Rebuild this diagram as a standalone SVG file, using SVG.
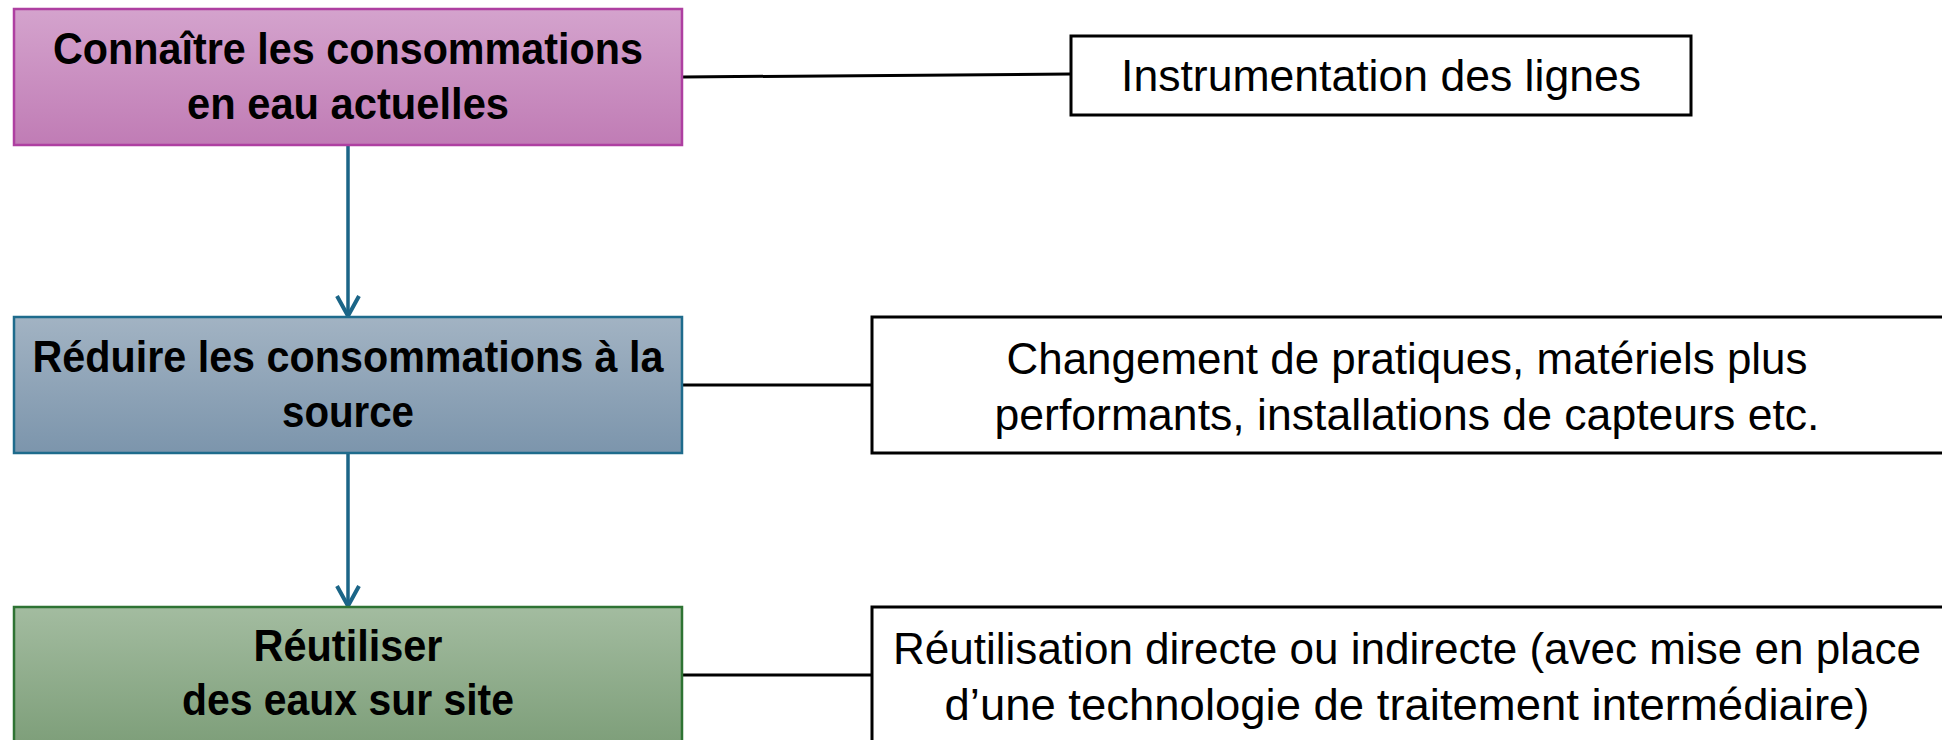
<svg xmlns="http://www.w3.org/2000/svg" width="1942" height="740" viewBox="0 0 1942 740">
<defs>
<linearGradient id="gPink" x1="0" y1="0" x2="0" y2="1"><stop offset="0" stop-color="#D4A3CD"/><stop offset="1" stop-color="#C07CB5"/></linearGradient>
<linearGradient id="gBlue" x1="0" y1="0" x2="0" y2="1"><stop offset="0" stop-color="#A2B3C3"/><stop offset="1" stop-color="#7C95AC"/></linearGradient>
<linearGradient id="gGreen" x1="0" y1="0" x2="0" y2="1"><stop offset="0" stop-color="#A3BCA0"/><stop offset="1" stop-color="#7D9E79"/></linearGradient>
<marker id="arr" viewBox="0 0 26 26" refX="23" refY="13" markerWidth="26" markerHeight="26" markerUnits="userSpaceOnUse" orient="auto">
<path d="M3,2 L23,13 L3,24" fill="none" stroke="#1B6587" stroke-width="4" transform="translate(0,0)"/>
</marker>
<style>
.lt{font-family:"Liberation Sans",Arial,sans-serif;font-weight:bold;font-size:44px;fill:#000;text-anchor:middle}
.rt{font-family:"Liberation Sans",Arial,sans-serif;font-size:44px;fill:#000;text-anchor:middle}
.rb{fill:#fff;stroke:#000;stroke-width:3}
.conn{stroke:#000;stroke-width:3;fill:none}
.arrow{stroke:#1B6587;stroke-width:3.5;fill:none}
</style>
</defs>
<rect width="1942" height="740" fill="#fff"/>
<g id="connectors">
<line class="conn" x1="683" y1="77" x2="1071" y2="74"/>
<line class="conn" x1="683" y1="385" x2="872" y2="385"/>
<line class="conn" x1="683" y1="675" x2="872" y2="675"/>
<line class="arrow" x1="348" y1="146" x2="348" y2="316" marker-end="url(#arr)"/>
<line class="arrow" x1="348" y1="454" x2="348" y2="606" marker-end="url(#arr)"/>
</g>
<g id="node-connaitre">
<rect x="14" y="9" width="668" height="136" fill="url(#gPink)" stroke="#AE3FA1" stroke-width="2.5"/>
<text class="lt" x="348" y="64" textLength="590" lengthAdjust="spacingAndGlyphs">Connaître les consommations</text>
<text class="lt" x="348" y="119" textLength="322" lengthAdjust="spacingAndGlyphs">en eau actuelles</text>
</g>
<g id="node-reduire">
<rect x="14" y="317" width="668" height="136" fill="url(#gBlue)" stroke="#1E6B8C" stroke-width="2.5"/>
<text class="lt" x="348" y="372" textLength="631" lengthAdjust="spacingAndGlyphs">Réduire les consommations à la</text>
<text class="lt" x="348" y="427" textLength="132" lengthAdjust="spacingAndGlyphs">source</text>
</g>
<g id="node-reutiliser">
<rect x="14" y="607" width="668" height="140" fill="url(#gGreen)" stroke="#2E7333" stroke-width="2.5"/>
<text class="lt" x="348" y="661" textLength="189" lengthAdjust="spacingAndGlyphs">Réutiliser</text>
<text class="lt" x="348" y="715" textLength="332" lengthAdjust="spacingAndGlyphs">des eaux sur site</text>
</g>
<g id="node-instrumentation">
<rect class="rb" x="1071" y="36" width="620" height="79"/>
<text class="rt" x="1381" y="91" textLength="520" lengthAdjust="spacingAndGlyphs">Instrumentation des lignes</text>
</g>
<g id="node-changement">
<rect class="rb" x="872" y="317" width="1075" height="136"/>
<text class="rt" x="1407" y="374" textLength="801" lengthAdjust="spacingAndGlyphs">Changement de pratiques, matériels plus</text>
<text class="rt" x="1407" y="430" textLength="825" lengthAdjust="spacingAndGlyphs">performants, installations de capteurs etc.</text>
</g>
<g id="node-reutilisation">
<rect class="rb" x="872" y="607" width="1075" height="140"/>
<text class="rt" x="1407" y="664" textLength="1028" lengthAdjust="spacingAndGlyphs">Réutilisation directe ou indirecte (avec mise en place</text>
<text class="rt" x="1407" y="720" textLength="925" lengthAdjust="spacingAndGlyphs">d’une technologie de traitement intermédiaire)</text>
</g>
</svg>
